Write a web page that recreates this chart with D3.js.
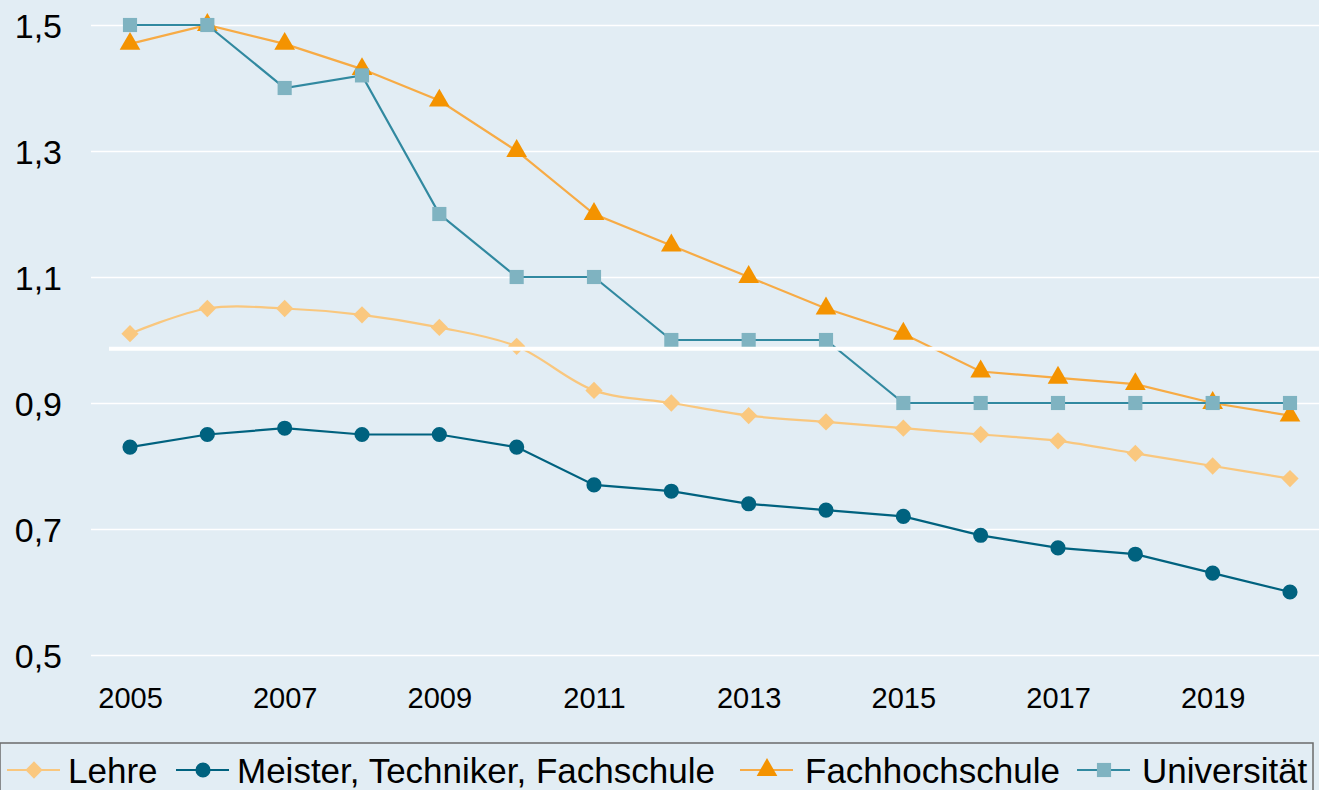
<!DOCTYPE html>
<html>
<head>
<meta charset="utf-8">
<script src="https://cdn.jsdelivr.net/npm/d3@7"></script>
<style>
  body { margin: 0; background: #e2edf4; }
  svg { display: block; font-family: "Liberation Sans", Arial, sans-serif; }
</style>
</head>
<body>
<div id="chart"></div>
<script>
const years = [2005, 2006, 2007, 2008, 2009, 2010, 2011, 2012, 2013, 2014, 2015, 2016, 2017, 2018, 2019, 2020];
const lehre = [1.01, 1.05, 1.05, 1.04, 1.02, 0.99, 0.92, 0.90, 0.88, 0.87, 0.86, 0.85, 0.84, 0.82, 0.80, 0.78];
const meister = [0.83, 0.85, 0.86, 0.85, 0.85, 0.83, 0.77, 0.76, 0.74, 0.73, 0.72, 0.69, 0.67, 0.66, 0.63, 0.60];
const fachhochschule = [1.47, 1.50, 1.47, 1.43, 1.38, 1.30, 1.20, 1.15, 1.10, 1.05, 1.01, 0.95, 0.94, 0.93, 0.90, 0.88];
const universitaet = [1.50, 1.50, 1.40, 1.42, 1.20, 1.10, 1.10, 1.00, 1.00, 1.00, 0.90, 0.90, 0.90, 0.90, 0.90, 0.90];
const yTicks = [0.5, 0.7, 0.9, 1.1, 1.3, 1.5];
const xTicks = [2005, 2007, 2009, 2011, 2013, 2015, 2017, 2019];
const referenceValue = 0.986;

const drawChart = () => {
  let width = 1319;
  let height = 790;

  let svg = d3
    .select('#chart')
    .append('svg')
    .attr('width', width)
    .attr('height', height);

  svg.append('rect').attr('width', width).attr('height', height).attr('fill', '#e2edf4');

  // Scales
  let xPositionScale = d3.scaleLinear().domain([2005, 2020]).range([130, 1290]);
  let yPositionScale = d3.scaleLinear().domain([0.5, 1.5]).range([655, 25]);

  // Gridlines
  let yAxisGenerator = d3
    .axisLeft(yPositionScale)
    .tickValues(yTicks)
    .tickSize(-(width - 91))
    .tickFormat((d) => d3.format('.1f')(d).replace('.', ','));

  let yAxis = svg
    .append('g')
    .attr('class', 'axis y-axis')
    .attr('transform', 'translate(91,0)')
    .call(yAxisGenerator);

  yAxis.select('.domain').remove();
  yAxis.selectAll('.tick line').attr('stroke', '#ffffff').attr('stroke-width', 1.3);
  yAxis
    .selectAll('.tick text')
    .attr('x', -29)
    .attr('dy', '0.36em')
    .attr('fill', '#000')
    .style('font-size', '34px')
    .style('text-anchor', 'end');

  let xAxisGenerator = d3
    .axisBottom(xPositionScale)
    .tickValues(xTicks)
    .tickSize(0)
    .tickFormat(d3.format('d'));

  let xAxis = svg
    .append('g')
    .attr('class', 'axis x-axis')
    .attr('transform', 'translate(0, 655)')
    .call(xAxisGenerator);

  xAxis.select('.domain').remove();
  xAxis
    .selectAll('.tick text')
    .attr('y', 53)
    .attr('dy', 0)
    .attr('fill', '#000')
    .style('font-size', '29px');

  let series = [
    { name: 'Lehre', values: lehre, line: '#f9c77e', fill: '#fac87f', symbol: d3.symbolDiamond2, size: 190, smooth: true },
    { name: 'Meister, Techniker, Fachschule', values: meister, line: '#00627f', fill: '#00627f', symbol: d3.symbolCircle, size: 180, smooth: false },
    { name: 'Fachhochschule', values: fachhochschule, line: '#f7ab45', fill: '#f49300', symbol: d3.symbolTriangle, size: 185, smooth: false },
    { name: 'Universität', values: universitaet, line: '#3189a0', fill: '#7fb3c1', symbol: d3.symbolSquare, size: 200, smooth: false }
  ];

  series.forEach((s) => {
    let points = years.map((year, i) => ({ year: year, value: s.values[i] }));
    let line = d3
      .line()
      .x((d) => xPositionScale(d.year))
      .y((d) => yPositionScale(d.value))
      .curve(s.smooth ? d3.curveCatmullRom.alpha(0.5) : d3.curveLinear);

    svg
      .append('path')
      .attr('d', line(points))
      .attr('fill', 'none')
      .attr('stroke', s.line)
      .attr('stroke-width', 2.2);

    svg
      .selectAll('.dot-' + s.name.replace(/[^a-z]/gi, ''))
      .data(points)
      .enter()
      .append('path')
      .attr('d', d3.symbol().type(s.symbol).size(s.size))
      .attr('transform', (d) => `translate(${xPositionScale(d.year)},${yPositionScale(d.value)})`)
      .attr('fill', s.fill);
  });

  // white reference line
  svg
    .append('line')
    .attr('x1', xPositionScale(2005) - 21)
    .attr('x2', width)
    .attr('y1', yPositionScale(referenceValue))
    .attr('y2', yPositionScale(referenceValue))
    .attr('stroke', '#ffffff')
    .attr('stroke-width', 4);

  // Legend
  let legend = svg.append('g').attr('class', 'legend');
  legend
    .append('rect')
    .attr('x', 0)
    .attr('y', 743)
    .attr('width', 1313)
    .attr('height', 60)
    .attr('fill', '#e2edf4')
    .attr('stroke', '#6b6b6b')
    .attr('stroke-width', 1.5);

  let legendX = [7, 176, 740, 1077];
  let legendTextOffset = [61, 61, 65, 65];
  series.forEach((s, i) => {
    let item = legend.append('g').attr('transform', `translate(${legendX[i]}, 770)`);
    item
      .append('line')
      .attr('x1', 0)
      .attr('x2', 53)
      .attr('stroke', s.line)
      .attr('stroke-width', 2.2);
    item
      .append('path')
      .attr('d', d3.symbol().type(s.symbol).size(s.size))
      .attr('transform', 'translate(27,0)')
      .attr('fill', s.fill);
    item
      .append('text')
      .attr('x', legendTextOffset[i])
      .attr('dy', '0.36em')
      .style('font-size', '35px')
      .attr('fill', '#000')
      .text(s.name);
  });
};

drawChart();
</script>
</body>
</html>
